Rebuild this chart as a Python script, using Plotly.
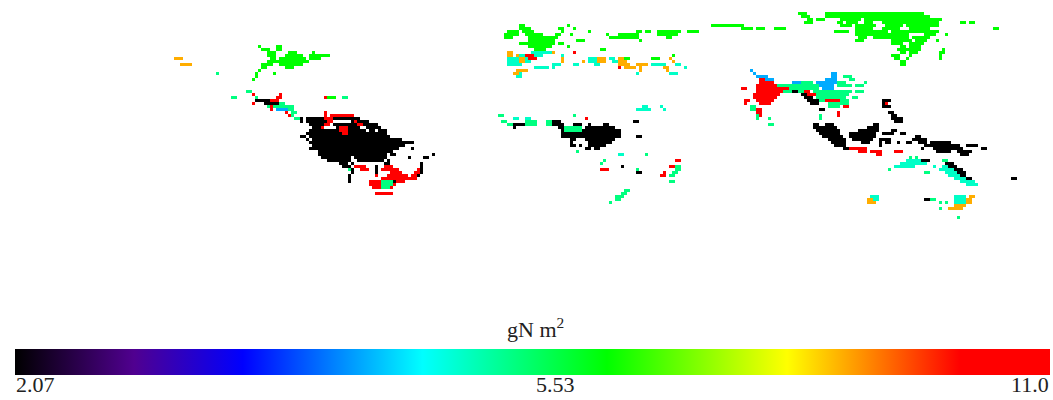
import numpy as np
import plotly.graph_objects as go

# Grid: (row, first column, last column), one list per value class, in gN m-2
N_ROWS, N_COLS = 114, 351

TEAL_VALUE, SPRING_VALUE, GREEN_VALUE = 4.95, 5.28, 6.12
BLUE_VALUE, ORANGE_VALUE, BLACK_VALUE, RED_VALUE = 4.31, 8.72, 2.07, 11.0

BAR_VALUES = [2.07, 5.53, 11.0]
BAR_POSITIONS = [0.0, 0.52, 1.0]
BAR_LABELS = ["2.07", "5.53", "11.0"]
BAR_TITLE = "gN m<sup>2</sup>"

GREEN_RUNS = [
 # North America
 (15,86,86),(15,92,93),(16,87,89),(16,92,93),(17,89,91),(17,96,98),(17,104,104),
 (18,89,91),(18,95,100),(18,103,109),(19,90,91),(19,93,101),(19,103,106),
 (20,89,91),(20,92,102),(21,87,90),(21,93,100),(22,87,88),(22,95,97),(23,86,86),
 (24,85,85),(24,91,91),(25,85,85),(26,84,84),
 (32,109,111),
 # Europe
 (8,173,174),(8,189,189),(9,173,176),(9,186,187),(9,191,191),(10,169,172),(10,174,177),
 (10,187,187),(10,196,196),(11,168,172),(11,175,180),(11,185,186),(11,190,190),(11,202,202),
 (12,168,170),(12,176,179),(12,180,185),(13,176,184),(13,192,194),(14,173,184),(14,186,187),
 (15,176,183),(15,189,189),(16,178,181),(16,200,201),
 # Western Russia
 (10,212,213),(10,215,216),(10,219,226),(10,229,230),(10,231,232),(11,206,212),(11,219,225),
 (12,203,212),(12,222,223),(13,213,213),(8,237,247),(9,247,250),(9,252,254),(9,258,261),
 (18,224,224),(19,208,209),(19,217,219),
 # Siberia
 (4,266,268),(4,275,307),(5,267,269),(5,275,276),(5,277,309),(6,269,270),(6,272,274),
 (6,280,283),(6,284,286),(6,288,313),(7,268,270),(7,279,280),(7,282,285),(7,288,290),
 (7,294,299),(7,300,312),(8,280,283),(8,285,291),(8,295,300),(8,302,312),(9,285,287),
 (9,288,290),(9,294,299),(9,303,309),(10,278,282),(10,285,295),(10,297,312),(11,285,290),
 (11,291,302),(11,308,311),(11,315,315),(12,286,288),(12,291,302),(12,304,309),
 (13,285,287),(13,297,303),(13,305,308),(13,312,312),(14,297,300),(14,303,307),
 (15,300,301),(15,303,306),(16,299,301),(16,302,306),(16,314,314),(17,300,301),(17,303,305),
 (17,313,314),(18,297,299),(18,303,303),(18,313,313),(19,298,299),(19,302,302),(19,313,313),
 (20,300,301),(21,300,301),(7,320,321),(7,323,324),(9,331,332),(11,315,315),
]

SPRING_RUNS = [
 (24,72,72),(32,77,78),(30,82,83),(31,84,84),(32,85,85),(32,114,115),(34,93,94),
 (35,89,97),(36,95,97),(37,97,98),(38,97,97),(39,98,100),(38,112,114),
 (56,116,116),(59,116,116),(60,116,116),(60,127,130),(61,127,130),(62,127,129),
 # Africa
 (38,166,167),(38,191,191),(40,167,168),(40,175,178),(40,182,183),(41,169,178),(41,182,184),
 (42,188,193),(43,188,193),(50,192,192),(51,215,215),(53,201,201),(54,200,200),(56,212,212),
 (55,225,226),(56,225,226),(57,224,225),(58,223,224),(60,223,224),(63,208,209),(64,207,208),
 (65,205,207),(66,205,206),(67,203,203),
 # Southern Asia
 (27,267,270),(28,259,272),(29,262,272),(30,260,263),(30,266,267),(30,271,283),(30,285,287),
 (31,271,282),(32,272,281),(32,284,285),(33,273,282),(34,276,282),(35,276,279),(35,250,251),
 (36,250,251),(38,273,273),(39,273,273),(38,252,252),(39,252,252),(39,256,256),(41,256,257),
 (25,281,283),(26,283,284),(27,279,281),(27,288,288),(28,279,283),(28,285,287),
 # Pacific and Australia
 (52,303,303),(52,305,305),(53,314,315),(56,296,296),(57,308,309),(66,310,311),(67,313,313),
 (67,315,315),(69,313,313),(72,319,319),
]

TEAL_RUNS = [
 (17,177,184),(18,173,174),(18,178,180),(18,187,187),(19,169,175),(19,196,199),(19,203,204),
 (20,169,171),(20,172,174),(20,175,176),(20,196,199),(20,204,206),(21,169,173),(21,184,186),
 (21,191,192),(21,198,199),(21,217,219),(21,220,221),(21,225,226),(22,178,180),(22,181,182),
 (22,184,184),(22,228,228),(24,171,173),(25,172,173),(24,223,225),(24,212,212),
 (39,171,172),(39,175,176),(35,214,215),(36,212,216),(35,220,220),(36,221,221),(51,206,207),
 (53,302,307),(54,300,308),(55,298,304),(55,311,311),(55,314,318),(56,313,318),(57,315,320),
 (58,316,320),(59,318,323),(60,320,324),(61,322,325),
 (65,318,321),(66,318,322),(67,318,322),(65,290,292),(66,291,292),
]

BLUE_RUNS = [
 (36,92,95),(23,250,250),(24,251,251),(25,252,255),(26,255,257),
 (24,277,278),(25,277,278),(26,275,278),(27,264,266),(27,272,278),(28,273,277),(29,274,277),
]

ORANGE_RUNS = [
 (19,58,60),(21,60,63),(17,169,170),(18,169,170),(18,172,172),(17,184,184),(19,173,174),
 (19,187,187),(20,173,174),(20,187,187),(19,199,201),(20,199,201),(20,194,194),(23,172,175),
 (24,171,172),(19,206,207),(20,206,208),(21,206,209),(22,208,209),(21,212,215),(22,210,211),
 (22,213,213),(23,213,213),(19,223,223),(20,224,224),(22,221,222),(23,222,222),
 (65,323,324),(66,322,323),(67,322,323),(66,289,290),(67,289,291),(68,318,321),(69,316,319),
 (69,320,320),
]

BLACK_RUNS = [
 # Central America
 (33,85,90),(34,88,92),(39,100,100),
 # Amazon
 (38,108,108),(39,102,107),(39,111,119),(40,100,100),(40,102,109),(40,117,122),(41,103,107),
 (41,111,118),(41,121,125),(42,104,107),(42,112,119),(42,122,126),(43,103,121),(43,123,124),
 (43,126,128),(44,102,128),(45,100,101),(45,103,129),(46,102,102),(46,104,133),(47,103,136),
 (47,137,137),(48,104,134),(49,103,132),(49,137,137),(50,106,130),(51,106,128),(51,130,131),
 (51,144,144),(52,107,116),(52,118,128),(52,136,136),(52,141,142),(53,109,116),(53,119,127),
 (53,129,129),(54,113,115),(54,117,117),(54,128,129),(54,140,140),(55,114,116),(55,125,125),
 (55,140,140),(56,117,117),(56,125,125),(56,139,140),(57,117,117),(57,125,125),(57,139,140),
 (58,116,116),(58,139,139),(59,116,116),(60,116,116),(60,131,131),
 # Africa
 (40,184,186),(40,211,212),(41,171,174),(41,184,187),(41,191,193),(41,196,196),(41,201,202),
 (42,171,171),(42,186,187),(42,195,204),(43,187,187),(43,194,206),(44,187,206),(45,187,206),
 (45,212,213),(46,190,191),(46,195,204),(47,190,190),(47,196,203),(48,190,191),(48,193,193),
 (48,196,201),(49,195,196),(49,198,199),(55,207,207),(57,212,213),
 # South-east Asia
 (30,264,265),(31,267,268),(32,268,270),(33,269,272),(34,270,272),(36,273,274),
 (33,294,296),(34,294,295),(35,294,296),(37,296,297),(38,297,298),(39,297,297),(39,298,300),
 (40,298,300),(41,271,272),(41,275,277),(42,271,278),(43,272,279),(44,273,279),
 (45,274,280),(46,276,281),(47,277,281),(48,278,281),(49,281,282),
 (41,291,292),(42,289,292),(43,286,292),(44,283,291),(45,283,291),(46,284,290),(47,287,289),
 (44,294,297),(43,297,298),(46,293,296),(47,293,293),(47,295,296),(48,293,293),(44,300,301),
 (47,299,299),(47,302,303),(45,305,306),(46,304,308),(47,306,308),(47,310,316),(48,308,319),
 (48,322,325),(49,307,307),(49,311,320),(49,327,328),(50,312,316),(50,319,323),(51,320,322),
 (53,307,309),(54,315,317),(55,316,318),(56,318,320),(57,319,321),(58,320,321),(59,322,323),
 (59,337,338),(66,308,309),
]

RED_RUNS = [
 (32,92,93),(33,90,92),(31,93,93),(31,84,84),(34,84,84),(35,90,90),(36,90,90),(37,95,95),(38,96,96),
 (32,108,108),(37,108,108),(38,108,108),(38,110,117),(39,108,110),(40,109,110),(40,118,118),
 (41,108,109),(42,107,107),(42,113,115),(43,113,115),(44,114,115),(41,119,120),
 (55,118,121),(55,128,130),(56,120,122),(56,127,132),(56,139,139),(57,130,133),(57,138,139),
 (58,125,125),(58,129,135),(58,137,138),(59,127,134),(59,135,138),(60,123,126),(60,132,134),
 (61,123,126),(61,131,131),(62,124,126),(62,130,130),(64,125,130),
 # Europe and Asia
 (18,175,177),(19,176,178),(17,191,191),(22,206,206),
 (26,253,254),(27,253,257),(28,252,258),(29,247,248),(29,252,262),(30,252,260),(30,268,269),
 (31,251,259),(31,269,271),(32,251,258),(33,248,249),(33,252,257),(34,248,248),(34,253,256),
 (36,252,253),(37,252,253),(38,253,253),(33,275,279),(35,281,282),(37,279,279),(38,279,279),
 (34,295,295),(39,195,195),(53,225,226),(55,223,224),(56,200,202),(57,221,221),(58,220,221),
 (49,283,288),(50,286,288),(50,290,293),(51,292,293),(50,298,300),
]

PAINT_ORDER = [
 (GREEN_RUNS, GREEN_VALUE), (SPRING_RUNS, SPRING_VALUE), (TEAL_RUNS, TEAL_VALUE),
 (BLUE_RUNS, BLUE_VALUE), (ORANGE_RUNS, ORANGE_VALUE), (BLACK_RUNS, BLACK_VALUE),
 (RED_RUNS, RED_VALUE),
]

COLOR_STOPS = [
 (0.0, "#000000"), (0.115, "#500090"), (0.22, "#0000ff"), (0.394, "#00ffff"),
 (0.572, "#00ff00"), (0.746, "#ffff00"), (0.913, "#ff0000"), (1.0, "#ff0000"),
]

grid = np.full((N_ROWS, N_COLS), np.nan)
for runs, value in PAINT_ORDER:
    position = float(np.interp(value, BAR_VALUES, BAR_POSITIONS))
    for row, first, last in runs:
        grid[row, first:last + 1] = position

fig = go.Figure(go.Heatmap(
    z=grid, zmin=0, zmax=1, colorscale=[list(s) for s in COLOR_STOPS], hoverongaps=False,
    colorbar=dict(orientation="h", x=15 / 1053, xanchor="left", len=1035 / 1053, lenmode="fraction",
                  y=25 / 400, yanchor="bottom", thickness=26, xpad=0, ypad=0,
                  outlinewidth=0, ticks="", showticklabels=False),
))

FONT = dict(family="Liberation Serif", size=22, color="#222222")
annotations = [
    dict(x=15 / 1053, y=2 / 400, text=BAR_LABELS[0], xanchor="left"),
    dict(x=555 / 1053, y=2 / 400, text=BAR_LABELS[1], xanchor="center"),
    dict(x=1050 / 1053, y=2 / 400, text=BAR_LABELS[2], xanchor="right"),
    dict(x=535 / 1053, y=57 / 400, text=BAR_TITLE, xanchor="center"),
]
for a in annotations:
    a.update(xref="paper", yref="paper", yanchor="bottom", showarrow=False, font=FONT, borderpad=0)

fig.update_layout(
    width=1053, height=400, margin=dict(l=0, r=0, t=0, b=0, pad=0, autoexpand=False),
    paper_bgcolor="white", plot_bgcolor="white", annotations=annotations,
    xaxis=dict(visible=False, range=[-0.5, N_COLS - 0.5]),
    yaxis=dict(visible=False, range=[N_ROWS - 0.5, -0.5], domain=[58 / 400, 1]),
)
fig.write_html("out.html", config={"displayModeBar": False},
               post_script="document.body.style.margin='0';document.body.style.overflow='hidden';")
